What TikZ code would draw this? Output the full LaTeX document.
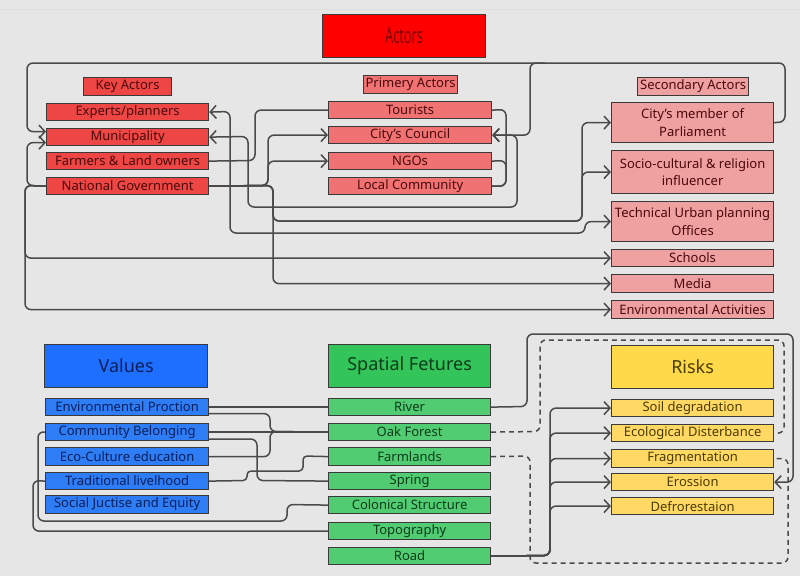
\documentclass[tikz,border=0pt]{standalone}
\usepackage{fontspec}
\setmainfont{Noto Sans}
\usetikzlibrary{arrows.meta}
\definecolor{bg}{HTML}{E6E6E6}
\definecolor{linec}{HTML}{4A4A4A}
\definecolor{bord}{HTML}{3A3A3A}
\definecolor{actred}{HTML}{FF0000}
\definecolor{acttxt}{HTML}{7A0000}
\definecolor{keyred}{HTML}{EE4545}
\definecolor{prired}{HTML}{F07272}
\definecolor{secred}{HTML}{EFA0A0}
\definecolor{redtxt}{HTML}{4A0A0A}
\definecolor{valhead}{HTML}{1F6FFF}
\definecolor{valitem}{HTML}{2E7DF4}
\definecolor{valtxt}{HTML}{0A1F5C}
\definecolor{spahead}{HTML}{33C45A}
\definecolor{spaitem}{HTML}{52CC72}
\definecolor{spatxt}{HTML}{0B3B1A}
\definecolor{riskhead}{HTML}{FFD94A}
\definecolor{riskitem}{HTML}{FFD964}
\definecolor{risktxt}{HTML}{4A3B00}
\newcommand{\mkbox}[7]{\node[#1,minimum width={(#5-#3)*1pt},minimum height={(#6-#4)*1pt}] (#2) at (#3,#4) {#7};}
\begin{document}
\begin{tikzpicture}[x=1pt,y=-1pt,
  base/.style={draw=bord, line width=1.2pt, inner sep=0pt, anchor=north west, align=center,
    font=\fontsize{13}{17.5}\selectfont},
  hdr/.style={base, font=\fontsize{18}{22}\selectfont},
  actb/.style={hdr, fill=actred, text=acttxt},
  keyb/.style={base, fill=keyred, text=redtxt},
  prib/.style={base, fill=prired, text=redtxt},
  secb/.style={base, fill=secred, text=redtxt},
  valh/.style={hdr, fill=valhead, text=valtxt},
  valb/.style={base, fill=valitem, text=valtxt},
  spah/.style={hdr, fill=spahead, text=spatxt},
  spab/.style={base, fill=spaitem, text=spatxt},
  riskh/.style={hdr, fill=riskhead, text=risktxt},
  riskb/.style={base, fill=riskitem, text=risktxt},
  conn/.style={draw=linec, line width=1.5pt, rounded corners=6pt},
  sconn/.style={draw=linec, line width=1.5pt, rounded corners=4pt},
  dconn/.style={conn, dash pattern=on 5pt off 4pt},
  >={Straight Barb[length=6pt,width=13pt]}]
\fill[bg] (0,0) rectangle (800,576);
\useasboundingbox (0,0) rectangle (800,576);
\draw[black!13, line width=1pt] (0,9) -- (800,9);

% ---------- Actors ----------
\mkbox{actb}{actors}{322}{14}{485}{57}{\scalebox{0.58}[1]{\fontsize{22}{24}\selectfont Actors}}
\mkbox{keyb}{keyl}{83}{77}{171}{95}{Key Actors}
\mkbox{keyb}{exp}{46}{103}{208}{120}{Experts/planners}
\mkbox{keyb}{mun}{46}{128}{208}{145}{Municipality}
\mkbox{keyb}{farm}{46}{152}{208}{169}{Farmers \& Land owners}
\mkbox{keyb}{natg}{46}{177}{208}{194}{National Government}
\mkbox{prib}{pril}{363}{75}{457}{93}{Primery Actors}
\mkbox{prib}{tour}{328}{101}{491}{118}{Tourists}
\mkbox{prib}{ccou}{328}{126}{491}{143}{City's Council}
\mkbox{prib}{ngo}{328}{152}{491}{169}{NGOs}
\mkbox{prib}{loc}{328}{177}{491}{194}{Local Community}
\mkbox{secb}{secl}{637}{77}{748}{95}{Secondary Actors}
\mkbox{secb}{mp}{611}{102}{773}{142}{City's member of\\Parliament}
\mkbox{secb}{soc}{611}{150}{773}{193}{Socio-cultural \& religion\\influencer}
\mkbox{secb}{tech}{611}{201}{773}{241}{Technical Urban planning\\Offices}
\mkbox{secb}{sch}{611}{249}{773}{266}{Schools}
\mkbox{secb}{med}{611}{274}{773}{292}{Media}
\mkbox{secb}{env}{611}{300}{773}{318}{Environmental Activities}

% ---------- Values ----------
\mkbox{valh}{values}{44}{344}{207}{387}{Values}
\mkbox{valb}{v1}{45}{398}{208}{415}{Environmental Proction}
\mkbox{valb}{v2}{45}{423}{208}{440}{Community Belonging}
\mkbox{valb}{v3}{45}{447}{208}{465}{Eco-Culture education}
\mkbox{valb}{v4}{45}{472}{208}{489}{Traditional livelhood}
\mkbox{valb}{v5}{45}{495}{208}{513}{Social Juctise and Equity}

% ---------- Spatial ----------
\mkbox{spah}{spatial}{328}{344}{490}{387}{Spatial Fetures}
\mkbox{spab}{s1}{328}{398}{490}{415}{River}
\mkbox{spab}{s2}{328}{423}{490}{440}{Oak Forest}
\mkbox{spab}{s3}{328}{447}{490}{465}{Farmlands}
\mkbox{spab}{s4}{328}{472}{490}{489}{Spring}
\mkbox{spab}{s5}{328}{496}{490}{513}{Colonical Structure}
\mkbox{spab}{s6}{328}{522}{490}{539}{Topography}
\mkbox{spab}{s7}{328}{547}{490}{564}{Road}

% ---------- Risks ----------
\mkbox{riskh}{risks}{611}{345}{773}{388}{Risks}
\mkbox{riskb}{r1}{611}{399}{773}{416}{Soil degradation}
\mkbox{riskb}{r2}{611}{424}{773}{441}{Ecological Disterbance}
\mkbox{riskb}{r3}{611}{449}{773}{467}{Fragmentation}
\mkbox{riskb}{r4}{611}{473}{773}{490}{Erossion}
\mkbox{riskb}{r5}{611}{497}{773}{514}{Defrorestaion}

% ---------- Actor connectors ----------
\draw[conn,->] (mp.east) -- (785,122) -- (785,63) -- (27,63) |- ([yshift=5.5pt]mun.west);
\draw[conn,->] (545,63) -- (530,63) |- (ccou.east);
\draw[conn,->] (natg.west) -- (27,185.5) |- ([yshift=-5.5pt]mun.west);
\draw[conn,->] (natg.west) -- (25,185.5) |- (sch.west);
\draw[conn,->] (natg.west) -- (25,185.5) |- (env.west);
\draw[conn,->] (natg.east) -- (268,185.5) |- (ccou.west);
\draw[conn,->] (natg.east) -- (268,185.5) |- (ngo.west);
\draw[conn,->] (natg.east) -- (273,185.5) |- (med.west);
\draw[conn,->] (natg.east) -- (273,185.5) |- (582,221) |- (mp.west);
\draw[conn,->] (natg.east) -- (273,185.5) |- (582,221) |- (soc.west);
\draw[conn] (farm.east) -- (255,160.5) |- (tour.west);
\draw[conn,<->] (mun.east) -- (248,136.5) |- (517,207) |- (ccou.east);
\draw[conn,<->] (exp.east) -- (230,111.5) |- (585,233) |- (tech.west);
\draw[conn] (tour.east) -- (506,109.5) |- (loc.east);
\draw[conn] (ngo.east) -- (506,160.5) |- (loc.east);

% ---------- Values -> Spatial ----------
\draw[conn] (v1.east) -- (s1.west);
\draw[conn] ([yshift=-6.5pt]v1.east) -| (270,431.5) -- (s2.west);
\draw[conn] (v2.east) -- (s2.west);
\draw[conn] (v3.east) -| (270,431.5) -- (s2.west);
\draw[conn] ([yshift=-7pt]v2.east) -| (257,480.5) -- (s4.west);
\draw[sconn] (v4.east) -- (247,480.5) -- (247,471) -- (303,471) -- (303,456) -- (s3.west);
\draw[conn] (v2.west) -- (38,431.5) -- (38,521) -- (287,521) -- (287,504.5) -- (s5.west);
\draw[conn] (v4.west) -- (33,480.5) |- (s6.west);

% ---------- Spatial -> Risks ----------
\draw[conn,->] (s1.east) -- (527,406.5) |- (793,334) |- (r4.east);
\draw[dconn] (s2.east) -- (540,431.5) |- (784,340) |- (r2.east);
\draw[dconn] (s3.east) -- (530,456) |- (788,563) |- (r3.east);
\draw[conn,->] (s7.east) -- (550,555.5) |- (r1.west);
\draw[conn,->] (s7.east) -- (550,555.5) |- (r2.west);
\draw[conn,->] (s7.east) -- (550,555.5) |- (r3.west);
\draw[conn,->] (s7.east) -- (550,555.5) |- (r4.west);
\draw[conn,->] (s7.east) -- (550,555.5) |- (r5.west);
\end{tikzpicture}
\end{document}
